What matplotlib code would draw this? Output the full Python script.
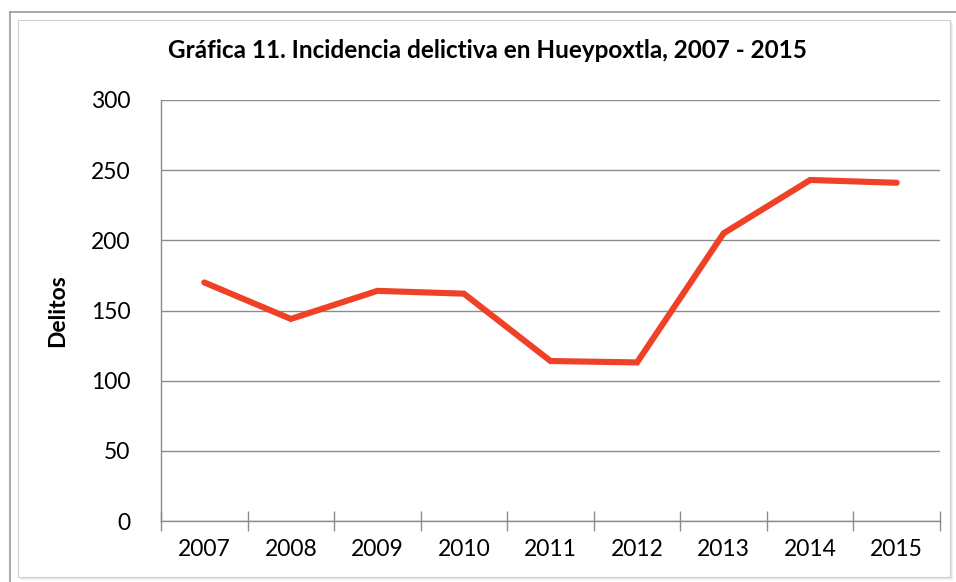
import matplotlib.pyplot as plt
from matplotlib.patches import Rectangle
from matplotlib.lines import Line2D

years = ['2007', '2008', '2009', '2010', '2011', '2012', '2013', '2014', '2015']
delitos = [170, 144, 164, 162, 114, 113, 205, 243, 241]

plt.rcParams['font.family'] = ['Lato', 'DejaVu Sans']

W, H = 956, 582
fig = plt.figure(figsize=(W / 100, H / 100), dpi=100)

# outer frame lines (pixel coords -> figure coords)
def fx(px):
    return px / W

def fy(py):
    return 1 - py / H

fig.add_artist(Line2D([fx(10), fx(10)], [fy(12), 0], color='#9a9a9a', lw=1.2))
fig.add_artist(Line2D([fx(10), 1], [fy(12), fy(12)], color='#9a9a9a', lw=1.2))

# shadowed inner box
for i, c in enumerate(['#f2f2f2', '#e6e6e6', '#dadada']):
    fig.add_artist(Rectangle((fx(18 + 3 - i), fy(577 + 3 - i)),
                             fx(932), fy(20) - fy(577),
                             facecolor=c, edgecolor='none', zorder=0))
fig.add_artist(Rectangle((fx(18), fy(577)), fx(932), fy(20) - fy(577),
                         facecolor='white', edgecolor='#d0d0d0', lw=0.8, zorder=0))

ax = fig.add_axes([161 / W, 61 / H, 779 / W, 421 / H])
ax.set_facecolor('none')

x = list(range(len(years)))
ax.plot(x, delitos, color='#EE4126', lw=4.4, solid_capstyle='round',
        solid_joinstyle='miter', zorder=3)

ax.set_xlim(-0.5, len(years) - 0.5)
ax.set_ylim(0, 300)
ax.set_yticks(range(0, 301, 50))
ax.yaxis.grid(True, color='#8c8c8c', lw=1)
ax.set_axisbelow(True)

ax.set_xticks(x)
ax.set_xticklabels(years)
ax.set_xticks([i - 0.5 for i in range(len(years) + 1)], minor=True)
ax.tick_params(axis='x', which='major', length=0, pad=13, labelsize=16.5)
ax.tick_params(axis='x', which='minor', length=15, direction='inout',
               color='#8c8c8c', width=1)
ax.tick_params(axis='y', length=0, pad=22, labelsize=16.5)

for s in ['top', 'right']:
    ax.spines[s].set_visible(False)
for s in ['left', 'bottom']:
    ax.spines[s].set_color('#8c8c8c')
    ax.spines[s].set_linewidth(1)

ax.set_ylabel('Delitos', fontweight='bold', fontsize=16.5, labelpad=16)
fig.text(fx(487), fy(50), 'Gráfica 11. Incidencia delictiva en Hueypoxtla, 2007 - 2015',
         ha='center', va='center', fontweight='bold', fontsize=17.5)

fig.savefig('out.png', dpi=100)
